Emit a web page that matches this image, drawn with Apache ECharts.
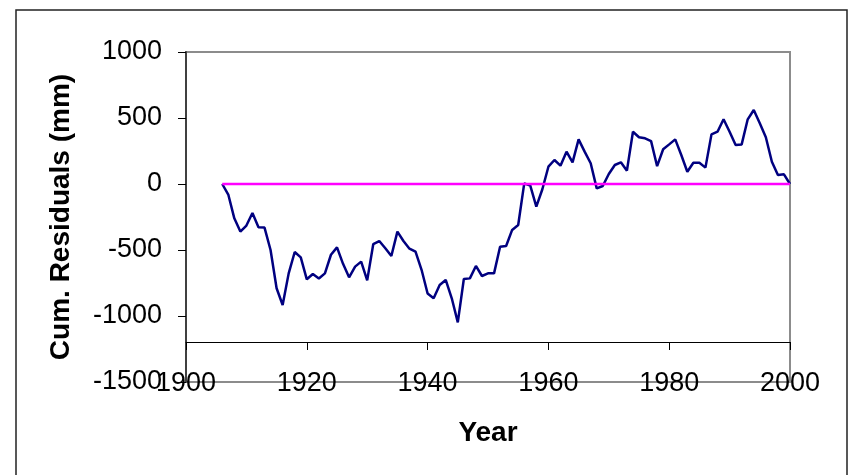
<!DOCTYPE html>
<html>
<head>
<meta charset="utf-8">
<script src="https://cdn.jsdelivr.net/npm/echarts@6/dist/echarts.min.js"></script>
<style>
  html, body { margin: 0; padding: 0; background: #fff; }
  #chart { width: 854px; height: 475px; }
</style>
</head>
<body>
<div id="chart"></div>
<script>
var years = [1906, 1907, 1908, 1909, 1910, 1911, 1912, 1913, 1914, 1915,
    1916, 1917, 1918, 1919, 1920, 1921, 1922, 1923, 1924, 1925,
    1926, 1927, 1928, 1929, 1930, 1931, 1932, 1933, 1934, 1935,
    1936, 1937, 1938, 1939, 1940, 1941, 1942, 1943, 1944, 1945,
    1946, 1947, 1948, 1949, 1950, 1951, 1952, 1953, 1954, 1955,
    1956, 1957, 1958, 1959, 1960, 1961, 1962, 1963, 1964, 1965,
    1966, 1967, 1968, 1969, 1970, 1971, 1972, 1973, 1974, 1975,
    1976, 1977, 1978, 1979, 1980, 1981, 1982, 1983, 1984, 1985,
    1986, 1987, 1988, 1989, 1990, 1991, 1992, 1993, 1994, 1995,
    1996, 1997, 1998, 1999, 2000];

var cumResiduals = [0, -80, -260, -360, -315, -220, -328, -330, -500, -790,
    -917, -677, -515, -556, -722, -682, -716, -677, -536, -480,
    -605, -707, -626, -588, -730, -456, -432, -487, -545, -361,
    -432, -490, -513, -650, -830, -866, -765, -727, -866, -1048,
    -720, -715, -621, -697, -677, -677, -475, -470, -348, -311,
    5, -12, -172, -40, 131, 182, 139, 245, 164, 338,
    245, 157, -33, -15, 76, 144, 164, 101, 396, 354,
    346, 325, 135, 263, 300, 338, 220, 93, 161, 161,
    124, 376, 396, 490, 396, 295, 300, 490, 561, 460,
    354, 169, 68, 73, 0];

// zero reference line
var baseYears = [1906, 2000];
var baseValues = [0, 0];

var yTicks = [-1500, -1000, -500, 0, 500, 1000];
var xTicks = [1900, 1920, 1940, 1960, 1980, 2000];

var font = '"Liberation Sans", Arial, sans-serif';

function pairs(xs, ys) {
    return xs.map(function(x, i) { return [x, ys[i]]; });
}

function plain(v) {
    return String(v);
}

var chart = echarts.init(document.getElementById('chart'));

var option = {
    animation: false,
    backgroundColor: '#fff',
    graphic: [{
        type: 'rect',
        shape: { x: 16, y: 10, width: 831, height: 470 },
        style: { fill: 'none', stroke: '#222', lineWidth: 1.5 },
        silent: true
    }],
    grid: {
        left: 186,
        right: 64,
        top: 52,
        bottom: 93,
        show: true,
        borderColor: '#8c8c8c',
        borderWidth: 2,
        backgroundColor: '#fff'
    },
    xAxis: [{
        type: 'value',
        min: xTicks[0],
        max: xTicks[xTicks.length - 1],
        interval: 20,
        position: 'bottom',
        offset: -40,
        axisLine: { show: true, onZero: false, lineStyle: { color: '#000', width: 1 } },
        axisTick: { show: true, length: 8, lineStyle: { color: '#000', width: 1 } },
        axisLabel: { show: false },
        splitLine: { show: false }
    }, {
        type: 'value',
        min: xTicks[0],
        max: xTicks[xTicks.length - 1],
        interval: 20,
        position: 'bottom',
        axisLine: { show: false },
        axisTick: { show: false },
        axisLabel: {
            margin: 2,
            verticalAlign: 'middle',
            color: '#000',
            fontSize: 27,
            fontFamily: font,
            formatter: plain
        },
        splitLine: { show: false },
        name: 'Year',
        nameLocation: 'middle',
        nameGap: 37,
        nameTextStyle: {
            color: '#000',
            fontSize: 28,
            fontWeight: 'bold',
            fontFamily: font
        }
    }],
    yAxis: {
        type: 'value',
        min: yTicks[0],
        max: yTicks[yTicks.length - 1],
        interval: 500,
        axisLine: { show: true, lineStyle: { color: '#404040', width: 2 } },
        axisTick: { show: true, length: 8, lineStyle: { color: '#000', width: 1 } },
        axisLabel: {
            margin: 24,
            color: '#000',
            fontSize: 27,
            fontFamily: font,
            formatter: plain
        },
        splitLine: { show: false },
        name: 'Cum. Residuals (mm)',
        nameLocation: 'middle',
        nameGap: 111,
        nameTextStyle: {
            color: '#000',
            fontSize: 28,
            fontWeight: 'bold',
            fontFamily: font
        }
    },
    series: [{
        name: 'Cum. Residuals',
        type: 'line',
        xAxisIndex: 0,
        data: pairs(years, cumResiduals),
        showSymbol: false,
        lineStyle: { color: '#000080', width: 2.5 },
        itemStyle: { color: '#000080' }
    }, {
        name: 'zero',
        type: 'line',
        xAxisIndex: 0,
        data: pairs(baseYears, baseValues),
        showSymbol: false,
        lineStyle: { color: '#ff00ff', width: 2.5 },
        itemStyle: { color: '#ff00ff' }
    }]
};

chart.setOption(option);
</script>
</body>
</html>
